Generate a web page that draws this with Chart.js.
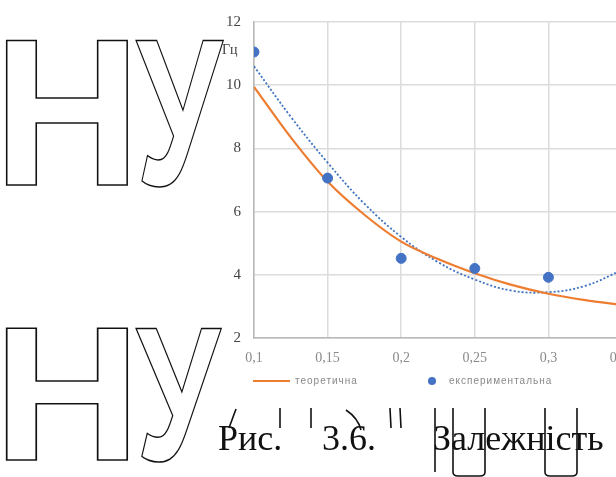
<!DOCTYPE html>
<html>
<head>
<meta charset="utf-8">
<script src="https://cdn.jsdelivr.net/npm/chart.js@4.4.1/dist/chart.umd.min.js"></script>
<style>
  html, body { margin: 0; padding: 0; background: #fff; width: 616px; height: 477px; overflow: hidden; position: relative; }
  #wrap { position: absolute; left: 200px; top: 0; width: 450px; height: 400px; }
  #unit { position: absolute; left: 222px; top: 42px; font: 14px "Liberation Serif", serif; color: #444; }
  .leg { position: absolute; top: 375px; font: 10px "Liberation Sans", sans-serif; color: #888; letter-spacing: 1px; white-space: nowrap; }
  #art { position: absolute; left: 0; top: 0; }
</style>
</head>
<body>
<div id="wrap"><canvas id="freqChart" width="450" height="400"></canvas></div>
<div id="unit">Гц</div>

<!-- legend -->
<div style="position:absolute;left:253px;top:380px;width:37px;height:2px;background:#ed7d31"></div>
<div class="leg" style="left:295px">теоретична</div>
<div style="position:absolute;left:428px;top:377px;width:8px;height:8px;border-radius:50%;background:#4472c4"></div>
<div class="leg" style="left:449px">експериментальна</div>

<svg id="art" width="616" height="477">
  <g fill="#fff" stroke="#111" stroke-width="1.6" font-family="Liberation Sans" font-weight="bold">
    <text x="-7" y="185" font-size="209" textLength="148" lengthAdjust="spacingAndGlyphs">Н</text>
    <text x="136" y="185" font-size="209" textLength="86" lengthAdjust="spacingAndGlyphs">У</text>
    <text x="-7" y="460" font-size="192" textLength="148" lengthAdjust="spacingAndGlyphs">Н</text>
    <text x="136" y="460" font-size="192" textLength="84" lengthAdjust="spacingAndGlyphs">У</text>
  </g>
  <g stroke="#111" stroke-width="1.6" fill="none">
    <path d="M229 428 L236 409"/>
    <path d="M280 408 L280 428"/>
    <path d="M311 408 L311 428"/>
    <path d="M346 410 Q358 418 361 430"/>
    <path d="M390 408 L391 428 M400 408 L401 428"/>
    <path d="M435 408 L435 472"/>
    <path d="M453 408 L453 472 Q453 476 458 476 L480 476 Q485 476 485 472 L485 408"/>
    <path d="M545 408 L545 472 Q545 476 550 476 L572 476 Q577 476 577 472 L577 408"/>
  </g>
  <text y="450" font-family="Liberation Serif" font-size="36" fill="#111">
    <tspan x="218">Рис.</tspan><tspan x="322">3.6.</tspan><tspan x="433">Залежність</tspan>
  </text>
</svg>

<script>
// x positions (frequency curve samples)
const xValues = [0.1, 0.125, 0.15, 0.175, 0.2, 0.225, 0.25, 0.275, 0.3, 0.325, 0.35];
const theoretical = [9.95, 8.35, 6.95, 5.9, 5.05, 4.5, 4.05, 3.68, 3.4, 3.2, 3.05];
const trendline = [10.6, 9.0, 7.55, 6.25, 5.2, 4.4, 3.85, 3.5, 3.45, 3.65, 4.15];

// experimental points
const expX = [0.1, 0.15, 0.2, 0.25, 0.3];
const expY = [11.05, 7.06, 4.52, 4.2, 3.92];

const xTickLabels = ['0,1', '0,15', '0,2', '0,25', '0,3', '0,35'];
const xTickValues = [0.1, 0.15, 0.2, 0.25, 0.3, 0.35];

const ctx = document.getElementById('freqChart').getContext('2d');
new Chart(ctx, {
    type: 'scatter',
    data: {
        datasets: [{
            label: 'експериментальна',
            data: expX.map((x, i) => ({ x: x, y: expY[i] })),
            backgroundColor: '#4472c4',
            borderColor: '#4472c4',
            pointRadius: 5,
            showLine: false
        }, {
            label: 'теоретична',
            data: xValues.map((x, i) => ({ x: x, y: theoretical[i] })),
            showLine: true,
            borderColor: '#ed7d31',
            borderWidth: 2.2,
            pointRadius: 0,
            cubicInterpolationMode: 'monotone'
        }, {
            label: 'тренд',
            data: xValues.map((x, i) => ({ x: x, y: trendline[i] })),
            showLine: true,
            borderColor: '#3f73c0',
            borderWidth: 1.8,
            borderDash: [2, 2],
            pointRadius: 0,
            tension: 0.4
        }]
    },
    options: {
        responsive: false,
        animation: false,
        devicePixelRatio: 1,
        layout: { padding: { top: 20, right: 28, left: 0, bottom: 0 } },
        plugins: { legend: { display: false }, tooltip: { enabled: false } },
        scales: {
            x: {
                type: 'linear',
                min: 0.1,
                max: 0.35,
                afterFit: s => { s.height = 62; },
                afterBuildTicks: s => { s.ticks = xTickValues.map(v => ({ value: v })); },
                ticks: {
                    padding: 12,
                    color: '#8a8a8a',
                    font: { family: 'Liberation Serif', size: 14 },
                    maxRotation: 0,
                    callback: v => xTickLabels[xTickValues.findIndex(t => Math.abs(t - v) < 1e-6)]
                },
                grid: { color: '#dcdcdc', lineWidth: 1.5, drawTicks: false },
                border: { color: '#b8b8b8', width: 1.5 }
            },
            y: {
                min: 2,
                max: 12,
                afterFit: s => { s.width = 54; },
                ticks: {
                    stepSize: 2,
                    padding: 13,
                    color: '#444',
                    font: { family: 'Liberation Serif', size: 15 }
                },
                grid: { color: '#dcdcdc', lineWidth: 1.5, drawTicks: false },
                border: { color: '#b8b8b8', width: 1.5 }
            }
        }
    }
});
</script>
</body>
</html>
